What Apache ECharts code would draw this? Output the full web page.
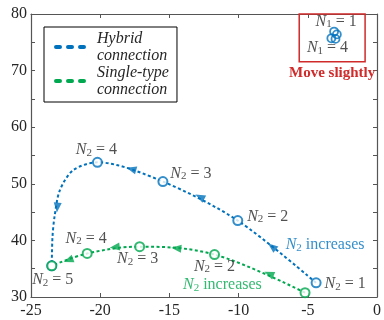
<!DOCTYPE html>
<html><head><meta charset="utf-8">
<script src="https://cdn.jsdelivr.net/npm/echarts@6/dist/echarts.min.js"></script>
<style>html,body{margin:0;padding:0;background:#fff}#c{width:384px;height:320px}</style>
</head><body><div id="c"></div>
<script>
// ---- data ----
const xTicks = [-25, -20, -15, -10, -5, 0];
const yTicks = [30, 40, 50, 60, 70, 80];

const hybridName = 'Hybrid\nconnection';
const singleName = 'Single-type\nconnection';

const n2Values = [1, 2, 3, 4, 5];
const hybridX = [-4.4, -10.06, -15.47, -20.2, -23.5];
const hybridY = [32.5, 43.5, 50.4, 53.8, 35.5];
// traced vertices of the hybrid curve between N2=4 and N2=5
const hybridBendX = [-21.95, -22.91, -23.3, -23.45];
const hybridBendY = [52.4, 48.9, 44.2, 40.5];

const singleX = [-5.2, -11.74, -17.15, -20.94, -23.5];
const singleY = [30.76, 37.5, 38.9, 37.7, 35.5];

const n1X = [-3.1, -2.9, -3.3, -3.0];
const n1Y = [76.9, 76.4, 75.7, 75.6];
const n1Values = [1, 2, 3, 4];

const hybridArrowX = [-7.59, -12.8, -17.75, -23.1];
const hybridArrowY = [38.9, 47.7, 52.6, 45.8];
const hybridArrowDir = [51.5, 62.5, 74, 175];
const singleArrowX = [-7.8, -14.5, -18.95, -22.3];
const singleArrowY = [34.1, 38.6, 38.8, 36.5];
const singleArrowDir = [67, 84, 97, 110];

const boxX = [-5.62, -0.86];
const boxY = [71.57, 80];
const boxText = 'Move slightly';

const increaseText = 'increases';
const hybridIncX = -3.75, hybridIncY = 39.2;
const singleIncX = -11.17, singleIncY = 32.1;

// ---- styles ----
const BLUE = '#0072BD', GREEN = '#00A84F', RED = '#D02A2A', INK = '#262626', AX = '#555';
const FONT = 'Liberation Serif';
const hybridLabelOffset = [[29, 1], [30, -4], [28, -8], [-1, -12], [1, 14]];
const singleLabelOffset = [null, [0, 12], [-2, 12], [-1, -15], null];
const n1LabelOffset = [[2, -10], null, null, [-8, 9]];

function rich(color) {
  return {
    i: {fontFamily: FONT, fontStyle: 'italic', fontSize: 16, color: color, lineHeight: 17},
    s: {fontFamily: FONT, fontSize: 11, color: color, lineHeight: 17, verticalAlign: 'bottom'},
    n: {fontFamily: FONT, fontSize: 16, color: color, lineHeight: 17}
  };
}
function nLabel(sub, val) { return '{i|N}{s|' + sub + '}{n| = ' + val + '}'; }

const hybridCurve = hybridX.map((x, i) => [x, hybridY[i]]);
hybridCurve.splice(hybridCurve.length - 1, 0, ...hybridBendX.map((x, i) => [x, hybridBendY[i]]));
const singleCurve = singleX.map((x, i) => [x, singleY[i]]);

function markers(xs, ys, offsets, color, sub, vals) {
  return xs.map((x, i) => {
    const item = {value: [x, ys[i]]};
    if (offsets[i]) {
      item.label = {show: true, position: 'inside', offset: offsets[i],
        formatter: nLabel(sub, vals[i]), rich: rich(INK)};
    }
    return item;
  });
}
function arrows(xs, ys, rots) {
  return xs.map((x, i) => ({value: [x, ys[i]], symbolRotate: rots[i]}));
}

const axisLine = {show: true, onZero: false, lineStyle: {color: AX, width: 1.2}};
const axisTick = {show: true, inside: true, length: 4, lineStyle: {color: AX, width: 1}};
const lbl = {fontFamily: FONT, fontSize: 16, color: INK};

const chart = echarts.init(document.getElementById('c'), null, {renderer: 'canvas'});
chart.setOption({
  backgroundColor: '#fff',
  animation: false,
  grid: {left: 31, right: 6, top: 14, bottom: 23},
  xAxis: [
    {type: 'value', min: xTicks[0], max: xTicks[xTicks.length - 1], interval: 5, position: 'bottom',
     axisLine, axisTick, splitLine: {show: false}, axisLabel: Object.assign({margin: 6}, lbl)},
    {type: 'value', min: xTicks[0], max: xTicks[xTicks.length - 1], interval: 5, position: 'top',
     axisLine, axisTick, splitLine: {show: false}, axisLabel: {show: false}}
  ],
  yAxis: [
    {type: 'value', min: yTicks[0], max: yTicks[yTicks.length - 1], interval: 5, position: 'left',
     axisLine, axisTick, splitLine: {show: false},
     axisLabel: Object.assign({margin: 4, formatter: v => (yTicks.indexOf(v) >= 0 ? String(v) : '')}, lbl)},
    {type: 'value', min: yTicks[0], max: yTicks[yTicks.length - 1], interval: 5, position: 'right',
     axisLine, axisTick, splitLine: {show: false}, axisLabel: {show: false}}
  ],
  legend: {
    orient: 'vertical', left: 44, top: 27, padding: [3, 8, 4, 8], itemGap: 0,
    itemWidth: 33, itemHeight: 14, borderColor: '#000', borderWidth: 1, backgroundColor: '#fff',
    selectedMode: false, data: [hybridName, singleName],
    textStyle: {fontFamily: FONT, fontStyle: 'italic', fontSize: 16, lineHeight: 17, color: INK, padding: [0, 0, 0, 5]},
    lineStyle: {width: 4, type: [4, 8], cap: 'round', dashOffset: -2},
    itemStyle: {opacity: 0}
  },
  series: [
    {name: hybridName, type: 'line', data: hybridCurve, smooth: 0.3, symbol: 'none', z: 2,
     lineStyle: {color: BLUE, width: 2, type: [3, 2.5]}, itemStyle: {color: BLUE}},
    {name: singleName, type: 'line', data: singleCurve, smooth: 0.35, symbol: 'none', z: 2,
     lineStyle: {color: GREEN, width: 2, type: [3, 2.5]}, itemStyle: {color: GREEN}},
    {type: 'scatter', data: arrows(hybridArrowX, hybridArrowY, hybridArrowDir), symbol: 'triangle',
     symbolSize: [8, 10], itemStyle: {color: BLUE}, z: 3},
    {type: 'scatter', data: arrows(singleArrowX, singleArrowY, singleArrowDir), symbol: 'triangle',
     symbolSize: [8, 10], itemStyle: {color: GREEN}, z: 3},
    {type: 'scatter', data: markers(hybridX, hybridY, hybridLabelOffset, BLUE, 2, n2Values),
     symbol: 'circle', symbolSize: 9, itemStyle: {color: '#fff', borderColor: BLUE, borderWidth: 2}, z: 4},
    {type: 'scatter', data: markers(singleX, singleY, singleLabelOffset, GREEN, 2, n2Values),
     symbol: 'circle', symbolSize: 9, itemStyle: {color: '#fff', borderColor: GREEN, borderWidth: 2}, z: 4},
    {type: 'scatter', data: markers(n1X, n1Y, n1LabelOffset, BLUE, 1, n1Values),
     symbol: 'circle', symbolSize: 8, itemStyle: {color: 'rgba(0,0,0,0)', borderColor: BLUE, borderWidth: 1.8}, z: 5,
     markArea: {silent: true, itemStyle: {color: 'rgba(0,0,0,0)', borderColor: RED, borderWidth: 1.5},
       label: {show: true, position: 'bottom', distance: 3, formatter: boxText,
         fontFamily: FONT, fontWeight: 'bold', fontSize: 15, color: RED},
       data: [[{coord: [boxX[0], boxY[1]]}, {coord: [boxX[1], boxY[0]]}]]}},
    {type: 'scatter', symbol: 'circle', symbolSize: 1, itemStyle: {color: 'rgba(0,0,0,0)'}, z: 6,
     data: [
       {value: [hybridIncX, hybridIncY], label: {show: true, position: 'inside',
         formatter: '{i|N}{s|2}{n| ' + increaseText + '}', rich: rich(BLUE)}},
       {value: [singleIncX, singleIncY], label: {show: true, position: 'inside',
         formatter: '{i|N}{s|2}{n| ' + increaseText + '}', rich: rich(GREEN)}}
     ]}
  ]
});
</script></body></html>
